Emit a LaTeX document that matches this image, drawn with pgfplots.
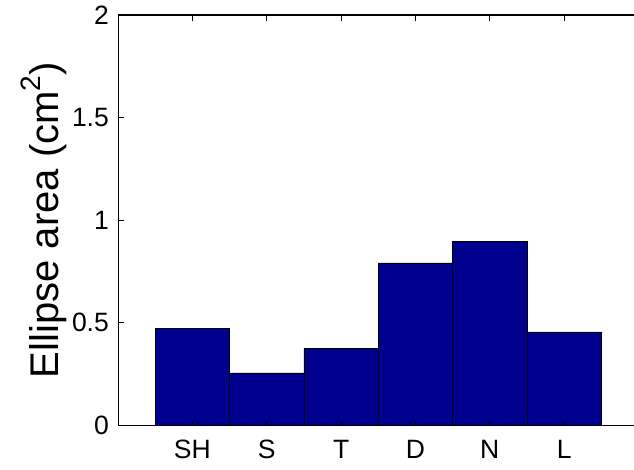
\documentclass[border=0pt]{standalone}
\usepackage{fontspec}
\setmainfont{Liberation Sans}
\usepackage{pgfplots}
\pgfplotsset{compat=1.18}
\usetikzlibrary{calc}
\definecolor{barblue}{RGB}{0,0,143}
\begin{document}
\begin{tikzpicture}
\begin{axis}[
  scale only axis,
  width=515.6bp, height=410bp,
  xmin=0, xmax=6.94,
  ymin=0, ymax=2,
  axis x line=box,
  axis y line=left,
  y axis line style={-},
  x axis line style={-},
  axis line style={line width=1.1pt},
  xtick={1,2,3,4,5,6},
  xticklabels={SH,S,T,D,N,L},
  xtick pos=both,
  ytick={0,0.5,1,1.5,2},
  yticklabels={0,0.5,1,1.5,2},
  ytick pos=left,
  tick align=inside,
  major tick length=5.5bp,
  tick style={line width=0.9pt,black},
  /pgf/number format/assume math mode=true,
  tick label style={font=\fontsize{26.5bp}{31bp}\selectfont, inner sep=0pt},
  xticklabel style={font=\fontsize{26.5bp}{31bp}\selectfont, inner sep=0pt, yshift=-15bp},
  yticklabel style={font=\fontsize{26.5bp}{31bp}\selectfont, inner sep=0pt, xshift=-9bp},
  ylabel={Ellipse area (cm\raisebox{0.45em}{\fontsize{28bp}{30bp}\selectfont 2})},
  ylabel style={font=\fontsize{40bp}{46bp}\selectfont, at={(axis description cs:-0.116,0.5)}, anchor=base, rotate=0},
  axis on top,
]
\addplot[ybar, bar width=1, fill=barblue, draw=black, line width=0.6pt] coordinates {
  (1,0.472) (2,0.255) (3,0.374) (4,0.792) (5,0.898) (6,0.455)
};
\end{axis}
\pgfresetboundingbox
\path ($(current axis.south west)+(-118bp,-44bp)$) rectangle ($(current axis.north east)+(0,15bp)$);
\end{tikzpicture}
\end{document}
